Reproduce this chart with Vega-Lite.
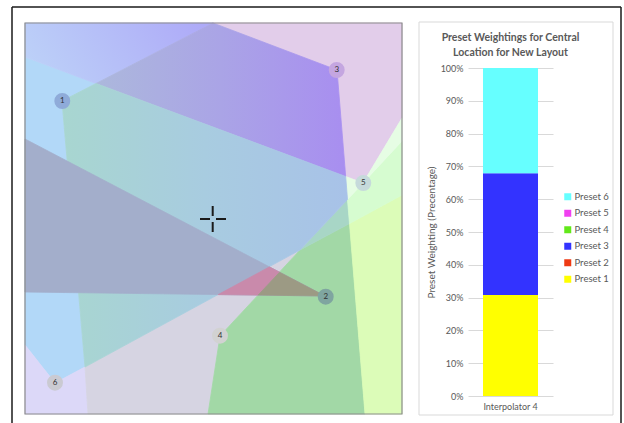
{
  "$schema": "https://vega.github.io/schema/vega-lite/v6.json",
  "padding": {"left": 11, "top": 6, "right": 0, "bottom": 0},
  "background": "white",
  "bounds": "flush",
  "spacing": 66,
  "config": {"view": {"stroke": null}, "font": "Lato"},
  "resolve": {"scale": {"color": "independent", "fill": "independent", "stroke": "independent"}, "legend": {"color": "independent"}},
  "datasets": {
    "frame": [
      {"x": 12, "x2": 12, "y": 7, "y2": 430},
      {"x": 12, "x2": 621, "y": 7, "y2": 7},
      {"x": 621, "x2": 621, "y": 7, "y2": 430}
    ],
    "panel": [{"x": 419, "x2": 613, "y": 22, "y2": 415}],
    "box": [{"x": 25, "x2": 402, "y": 23, "y2": 414}],
    "cross": [
      {"x": 200, "x2": 210, "y": 219, "y2": 219},
      {"x": 216, "x2": 226, "y": 219, "y2": 219},
      {"x": 212.7, "x2": 212.7, "y": 206, "y2": 216},
      {"x": 212.7, "x2": 212.7, "y": 222, "y2": 232}
    ],
    "points": [
      {"id": "1", "x": 62.3, "y": 101},
      {"id": "2", "x": 325.7, "y": 296.7},
      {"id": "3", "x": 336.7, "y": 70},
      {"id": "4", "x": 220, "y": 335.7},
      {"id": "5", "x": 363.3, "y": 183},
      {"id": "6", "x": 55, "y": 382.7}
    ],
    "polys": [
      {"poly": "tl", "z": 0, "i": 0, "x": 25, "y": 23},
      {"poly": "tl", "z": 0, "i": 1, "x": 213, "y": 23},
      {"poly": "tl", "z": 0, "i": 2, "x": 96, "y": 83.5},
      {"poly": "tl", "z": 0, "i": 3, "x": 25, "y": 57},
      {"poly": "pu", "z": 4, "i": 0, "x": 213, "y": 23},
      {"poly": "pu", "z": 4, "i": 1, "x": 337, "y": 70},
      {"poly": "pu", "z": 4, "i": 2, "x": 345.7, "y": 176.5},
      {"poly": "pu", "z": 4, "i": 3, "x": 96, "y": 83.5},
      {"poly": "pk", "z": 1, "i": 0, "x": 213, "y": 23},
      {"poly": "pk", "z": 1, "i": 1, "x": 402, "y": 23},
      {"poly": "pk", "z": 1, "i": 2, "x": 402, "y": 118},
      {"poly": "pk", "z": 1, "i": 3, "x": 363, "y": 183},
      {"poly": "pk", "z": 1, "i": 4, "x": 345.7, "y": 176.5},
      {"poly": "pk", "z": 1, "i": 5, "x": 337, "y": 70},
      {"poly": "cb", "z": 1, "i": 0, "x": 25, "y": 57},
      {"poly": "cb", "z": 1, "i": 1, "x": 96, "y": 83.5},
      {"poly": "cb", "z": 1, "i": 2, "x": 62, "y": 101},
      {"poly": "cb", "z": 1, "i": 3, "x": 85, "y": 367},
      {"poly": "cb", "z": 1, "i": 4, "x": 55, "y": 383},
      {"poly": "cb", "z": 1, "i": 5, "x": 25, "y": 345},
      {"poly": "te", "z": 5, "i": 0, "x": 96, "y": 83.5},
      {"poly": "te", "z": 5, "i": 1, "x": 345.7, "y": 176.5},
      {"poly": "te", "z": 5, "i": 2, "x": 347.5, "y": 199.5},
      {"poly": "te", "z": 5, "i": 3, "x": 300, "y": 250},
      {"poly": "te", "z": 5, "i": 4, "x": 85, "y": 367},
      {"poly": "te", "z": 5, "i": 5, "x": 62, "y": 101},
      {"poly": "lv", "z": 1, "i": 0, "x": 25, "y": 345},
      {"poly": "lv", "z": 1, "i": 1, "x": 55, "y": 383},
      {"poly": "lv", "z": 1, "i": 2, "x": 85, "y": 367},
      {"poly": "lv", "z": 1, "i": 3, "x": 88, "y": 414},
      {"poly": "lv", "z": 1, "i": 4, "x": 25, "y": 414},
      {"poly": "gy", "z": 1, "i": 0, "x": 85, "y": 367},
      {"poly": "gy", "z": 1, "i": 1, "x": 300, "y": 250},
      {"poly": "gy", "z": 1, "i": 2, "x": 220, "y": 336},
      {"poly": "gy", "z": 1, "i": 3, "x": 208, "y": 414},
      {"poly": "gy", "z": 1, "i": 4, "x": 88, "y": 414},
      {"poly": "gr", "z": 1, "i": 0, "x": 300, "y": 250},
      {"poly": "gr", "z": 1, "i": 1, "x": 349.5, "y": 223.5},
      {"poly": "gr", "z": 1, "i": 2, "x": 365, "y": 414},
      {"poly": "gr", "z": 1, "i": 3, "x": 208, "y": 414},
      {"poly": "gr", "z": 1, "i": 4, "x": 220, "y": 336},
      {"poly": "tg", "z": 1, "i": 0, "x": 300, "y": 250},
      {"poly": "tg", "z": 1, "i": 1, "x": 347.5, "y": 199.5},
      {"poly": "tg", "z": 1, "i": 2, "x": 349.5, "y": 223.5},
      {"poly": "yg", "z": 1, "i": 0, "x": 349.5, "y": 223.5},
      {"poly": "yg", "z": 1, "i": 1, "x": 402, "y": 195},
      {"poly": "yg", "z": 1, "i": 2, "x": 402, "y": 414},
      {"poly": "yg", "z": 1, "i": 3, "x": 365, "y": 414},
      {"poly": "lg", "z": 1, "i": 0, "x": 347.5, "y": 199.5},
      {"poly": "lg", "z": 1, "i": 1, "x": 363, "y": 183},
      {"poly": "lg", "z": 1, "i": 2, "x": 402, "y": 141},
      {"poly": "lg", "z": 1, "i": 3, "x": 402, "y": 195},
      {"poly": "lg", "z": 1, "i": 4, "x": 349.5, "y": 223.5},
      {"poly": "w1", "z": 1, "i": 0, "x": 345.7, "y": 176.5},
      {"poly": "w1", "z": 1, "i": 1, "x": 363, "y": 183},
      {"poly": "w1", "z": 1, "i": 2, "x": 347.5, "y": 199.5},
      {"poly": "w2", "z": 1, "i": 0, "x": 363, "y": 183},
      {"poly": "w2", "z": 1, "i": 1, "x": 402, "y": 118},
      {"poly": "w2", "z": 1, "i": 2, "x": 402, "y": 141},
      {"poly": "rb", "z": 2, "i": 0, "x": 325, "y": 296},
      {"poly": "rb", "z": 2, "i": 1, "x": 25, "y": 139},
      {"poly": "rb", "z": 2, "i": 2, "x": 25, "y": 292},
      {"poly": "pb", "z": 3, "i": 0, "x": 218.2, "y": 294.6},
      {"poly": "pb", "z": 3, "i": 1, "x": 269.4, "y": 266.9},
      {"poly": "pb", "z": 3, "i": 2, "x": 279.6, "y": 272.2},
      {"poly": "pb", "z": 3, "i": 3, "x": 258.2, "y": 295.1},
      {"poly": "ol", "z": 3, "i": 0, "x": 279.6, "y": 272.2},
      {"poly": "ol", "z": 3, "i": 1, "x": 325, "y": 296},
      {"poly": "ol", "z": 3, "i": 2, "x": 258.2, "y": 295.1}
    ],
    "weights": [
      {"interp": "Interpolator 4", "preset": "Preset 1", "k": 1, "value": 0.308},
      {"interp": "Interpolator 4", "preset": "Preset 2", "k": 2, "value": 0},
      {"interp": "Interpolator 4", "preset": "Preset 3", "k": 3, "value": 0.371},
      {"interp": "Interpolator 4", "preset": "Preset 4", "k": 4, "value": 0},
      {"interp": "Interpolator 4", "preset": "Preset 5", "k": 5, "value": 0},
      {"interp": "Interpolator 4", "preset": "Preset 6", "k": 6, "value": 0.321}
    ]
  },
  "hconcat": [
    {
      "width": 377,
      "height": 391,
      "encoding": {
        "x": {"field": "x", "type": "quantitative", "scale": {"domain": [25, 402], "nice": false, "zero": false}, "axis": null},
        "y": {"field": "y", "type": "quantitative", "scale": {"domain": [23, 414], "nice": false, "zero": false, "reverse": true}, "axis": null}
      },
      "layer": [
        {
          "data": {"name": "frame"},
          "mark": {"type": "rule", "color": "#1a1a1a", "strokeWidth": 1.5, "clip": false},
          "encoding": {"x2": {"field": "x2"}, "y2": {"field": "y2"}}
        },
        {
          "data": {"name": "panel"},
          "mark": {"type": "rect", "fill": "white", "stroke": "#d9d9d9", "strokeWidth": 1, "clip": false},
          "encoding": {"x2": {"field": "x2"}, "y2": {"field": "y2"}}
        },
        {
          "data": {"name": "polys"},
          "transform": [{"filter": "datum.z == 1"}],
          "mark": {"type": "line", "interpolate": "linear-closed", "strokeWidth": 0.8},
          "encoding": {
            "order": {"field": "i", "type": "quantitative"},
            "fill": {"field": "poly", "type": "nominal", "legend": null, "scale": {"domain": ["pk", "cb", "lv", "gy", "gr", "tg", "yg", "lg", "w1", "w2", "rb", "pb", "ol"], "range": ["#e2cdea", "#b2d8f8", "#dcd8f8", "#d6d4e2", "#a2d8a6", "#a8d6c6", "#dcfcb8", "#d6fcd0", "#e6fde4", "#e6fde4", "#a3aecb", "#c98aab", "#9c9a84"]}},
            "stroke": {"field": "poly", "type": "nominal", "legend": null, "scale": {"domain": ["pk", "cb", "lv", "gy", "gr", "tg", "yg", "lg", "w1", "w2", "rb", "pb", "ol"], "range": ["#e2cdea", "#b2d8f8", "#dcd8f8", "#d6d4e2", "#a2d8a6", "#a8d6c6", "#dcfcb8", "#d6fcd0", "#e6fde4", "#e6fde4", "#a3aecb", "#c98aab", "#9c9a84"]}}
          }
        },
        {
          "data": {"name": "polys"},
          "transform": [{"filter": "datum.z == 0"}],
          "mark": {"type": "line", "interpolate": "linear-closed", "strokeWidth": 0.8,
            "fill": {"gradient": "linear", "x1": 0, "y1": 0.5, "x2": 1, "y2": 0.3, "stops": [{"offset": 0, "color": "#bcd0f8"}, {"offset": 1, "color": "#aeaaf8"}]},
            "stroke": {"gradient": "linear", "x1": 0, "y1": 0.5, "x2": 1, "y2": 0.3, "stops": [{"offset": 0, "color": "#bcd0f8"}, {"offset": 1, "color": "#aeaaf8"}]}},
          "encoding": {"order": {"field": "i", "type": "quantitative"}}
        },
        {
          "data": {"name": "polys"},
          "transform": [{"filter": "datum.z == 4"}],
          "mark": {"type": "line", "interpolate": "linear-closed", "strokeWidth": 0.8,
            "fill": {"gradient": "linear", "x1": 0, "y1": 0.5, "x2": 1, "y2": 0.5, "stops": [{"offset": 0, "color": "#acb8dc"}, {"offset": 0.5, "color": "#aaa4e6"}, {"offset": 1, "color": "#a88ef0"}]},
            "stroke": {"gradient": "linear", "x1": 0, "y1": 0.5, "x2": 1, "y2": 0.5, "stops": [{"offset": 0, "color": "#acb8dc"}, {"offset": 0.5, "color": "#aaa4e6"}, {"offset": 1, "color": "#a88ef0"}]}},
          "encoding": {"order": {"field": "i", "type": "quantitative"}}
        },
        {
          "data": {"name": "polys"},
          "transform": [{"filter": "datum.z == 5"}],
          "mark": {"type": "line", "interpolate": "linear-closed", "strokeWidth": 0.8,
            "fill": {"gradient": "linear", "x1": 0, "y1": 0.5, "x2": 1, "y2": 0.5, "stops": [{"offset": 0, "color": "#a8d6d0"}, {"offset": 0.5, "color": "#a8cce0"}, {"offset": 1, "color": "#a8c2e8"}]},
            "stroke": {"gradient": "linear", "x1": 0, "y1": 0.5, "x2": 1, "y2": 0.5, "stops": [{"offset": 0, "color": "#a8d6d0"}, {"offset": 0.5, "color": "#a8cce0"}, {"offset": 1, "color": "#a8c2e8"}]}},
          "encoding": {"order": {"field": "i", "type": "quantitative"}}
        },
        {
          "data": {"name": "polys"},
          "transform": [{"filter": "datum.z == 2"}],
          "mark": {"type": "line", "interpolate": "linear-closed", "strokeWidth": 0.8, "fill": "#a3aecb", "stroke": "#a3aecb"},
          "encoding": {"order": {"field": "i", "type": "quantitative"}}
        },
        {
          "data": {"name": "polys"},
          "transform": [{"filter": "datum.z == 3"}],
          "mark": {"type": "line", "interpolate": "linear-closed", "strokeWidth": 0.8},
          "encoding": {
            "order": {"field": "i", "type": "quantitative"},
            "fill": {"field": "poly", "type": "nominal", "legend": null, "scale": {"domain": ["pk", "cb", "lv", "gy", "gr", "tg", "yg", "lg", "w1", "w2", "rb", "pb", "ol"], "range": ["#e2cdea", "#b2d8f8", "#dcd8f8", "#d6d4e2", "#a2d8a6", "#a8d6c6", "#dcfcb8", "#d6fcd0", "#e6fde4", "#e6fde4", "#a3aecb", "#c98aab", "#9c9a84"]}},
            "stroke": {"field": "poly", "type": "nominal", "legend": null, "scale": {"domain": ["pk", "cb", "lv", "gy", "gr", "tg", "yg", "lg", "w1", "w2", "rb", "pb", "ol"], "range": ["#e2cdea", "#b2d8f8", "#dcd8f8", "#d6d4e2", "#a2d8a6", "#a8d6c6", "#dcfcb8", "#d6fcd0", "#e6fde4", "#e6fde4", "#a3aecb", "#c98aab", "#9c9a84"]}}
          }
        },
        {
          "data": {"name": "box"},
          "mark": {"type": "rect", "fillOpacity": 0, "stroke": "#8c8c8c", "strokeWidth": 1.2, "clip": false},
          "encoding": {"x2": {"field": "x2"}, "y2": {"field": "y2"}}
        },
        {
          "data": {"name": "cross"},
          "mark": {"type": "rule", "color": "#1a1a1a", "strokeWidth": 2},
          "encoding": {"x2": {"field": "x2"}, "y2": {"field": "y2"}}
        },
        {
          "data": {"name": "points"},
          "mark": {"type": "circle", "size": 254, "opacity": 1},
          "encoding": {
            "color": {"field": "id", "type": "nominal", "legend": null, "scale": {"domain": ["1", "2", "3", "4", "5", "6"], "range": ["#8fabd9", "#7fa5a0", "#c4a6e0", "#d2d2d2", "#c6dadb", "#cacad2"]}}
          }
        },
        {
          "data": {"name": "points"},
          "mark": {"type": "text", "fontSize": 8, "color": "#333333", "font": "Lato"},
          "encoding": {"text": {"field": "id"}}
        }
      ]
    },
    {
      "bounds": "flush",
      "spacing": 44,
      "vconcat": [
        {
          "width": 85,
          "height": 1,
          "data": {"values": [{"a": 1}]},
          "mark": {"type": "point", "opacity": 0}
        },
        {
          "width": 85,
          "height": 328,
          "data": {"name": "weights"},
          "title": {"text": ["Preset Weightings for Central", "Location for New Layout"], "fontSize": 10.5, "fontWeight": "bold", "color": "#595959", "font": "Lato", "anchor": "middle", "offset": 6, "lineHeight": 15},
          "mark": {"type": "bar"},
          "encoding": {
            "x": {"field": "interp", "type": "nominal", "scale": {"paddingInner": 0, "paddingOuter": 0.2727}, "axis": {"title": null, "labelAngle": 0, "domain": false, "ticks": false, "labelPadding": 6, "labelFontSize": 9, "labelColor": "#595959", "labelFont": "Lato"}},
            "y": {"field": "value", "type": "quantitative", "stack": "zero", "scale": {"domain": [0, 1], "nice": false}, "axis": {"values": [0, 0.1, 0.2, 0.3, 0.4, 0.5, 0.6, 0.7, 0.8, 0.9, 1], "format": ".0%", "grid": true, "gridColor": "#d9d9d9", "domain": false, "ticks": false, "labelPadding": 5, "labelFontSize": 9, "labelColor": "#595959", "labelFont": "Lato", "title": "Preset Weighting (Precentage)", "titleFont": "Lato", "titleFontSize": 10, "titleFontWeight": "normal", "titleColor": "#595959", "titlePadding": 4}},
            "color": {"field": "preset", "type": "nominal", "scale": {"domain": ["Preset 6", "Preset 5", "Preset 4", "Preset 3", "Preset 2", "Preset 1"], "range": ["#66ffff", "#f040f0", "#62e81a", "#3333ff", "#ee3a14", "#ffff00"]}, "legend": {"orient": "none", "legendX": 95, "legendY": 169, "title": null, "symbolType": "square", "symbolSize": 49, "symbolStrokeWidth": 0, "labelFontSize": 9.5, "labelColor": "#595959", "labelFont": "Lato", "rowPadding": 5.5, "labelOffset": 2}},
            "order": {"field": "k", "type": "quantitative"}
          }
        }
      ]
    }
  ]
}
